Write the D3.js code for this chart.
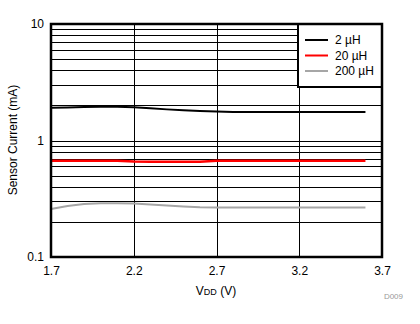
<!DOCTYPE html>
<html>
<head>
<meta charset="utf-8">
<script src="https://cdn.jsdelivr.net/npm/d3@7"></script>
<style>
  body { margin: 0; background: #fff; }
  text { font-family: "Liberation Sans", Arial, sans-serif; }
</style>
</head>
<body>
<svg id="chart"></svg>
<script>
// supply voltage (V)
const vdd = [1.7, 1.8, 1.9, 2.0, 2.1, 2.2, 2.3, 2.4, 2.5, 2.6, 2.7, 2.8, 2.9, 3.0, 3.1, 3.2, 3.3, 3.4, 3.5, 3.6];
// sensor current (mA) for each inductance
const cur2uH   = [1.91, 1.92, 1.94, 1.95, 1.95, 1.93, 1.89, 1.85, 1.82, 1.79, 1.77, 1.76, 1.76, 1.76, 1.76, 1.76, 1.76, 1.76, 1.76, 1.76];
const cur20uH  = [0.671, 0.671, 0.671, 0.671, 0.671, 0.66, 0.658, 0.658, 0.658, 0.658, 0.671, 0.671, 0.671, 0.671, 0.671, 0.671, 0.671, 0.671, 0.671, 0.671];
const cur200uH = [0.258, 0.274, 0.285, 0.29, 0.29, 0.288, 0.282, 0.277, 0.271, 0.267, 0.266, 0.266, 0.266, 0.266, 0.266, 0.266, 0.266, 0.266, 0.266, 0.266];
const seriesNames = ["2 µH", "20 µH", "200 µH"];
const seriesColors = ["#000000", "#ff0000", "#a6a6a6"];
const xTicks = [1.7, 2.2, 2.7, 3.2, 3.7];
const yTicks = [0.1, 1, 10];

document.addEventListener("DOMContentLoaded", function() {
  const width = 420, height = 324;
  const m = {left: 51, right: 38, top: 24, bottom: 67};

  const svg = d3.select("#chart")
    .attr("width", width)
    .attr("height", height);

  const x = d3.scaleLinear().domain([1.7, 3.7]).range([m.left, width - m.right]);
  const y = d3.scaleLog().domain([0.1, 10]).range([height - m.bottom, m.top]);

  // horizontal grid (log minor + major)
  const yGrid = [];
  for (let d = 0.1; d < 10; d *= 10) {
    for (let k = 1; k < 10; k++) yGrid.push(+(d * k).toPrecision(2));
  }
  svg.append("g").selectAll("line").data(yGrid).join("line")
    .attr("x1", m.left).attr("x2", width - m.right)
    .attr("y1", d => Math.round(y(d)) + 0.5).attr("y2", d => Math.round(y(d)) + 0.5)
    .attr("stroke", "#000").attr("stroke-width", 1);

  svg.append("g").selectAll("line").data(xTicks.slice(1, -1)).join("line")
    .attr("x1", d => Math.round(x(d)) + 0.5).attr("x2", d => Math.round(x(d)) + 0.5)
    .attr("y1", m.top).attr("y2", height - m.bottom)
    .attr("stroke", "#000").attr("stroke-width", 1);

  // series lines
  const series = [cur2uH, cur20uH, cur200uH];
  const line = d3.line()
    .x((d, i) => x(vdd[i]))
    .y(d => y(d));
  svg.append("g").selectAll("path").data(series).join("path")
    .attr("d", line)
    .attr("fill", "none")
    .attr("stroke", (d, i) => seriesColors[i])
    .attr("stroke-width", (d, i) => i === 1 ? 2.5 : 2);

  // legend
  const lg = svg.append("g");
  lg.append("rect")
    .attr("x", 298).attr("y", m.top)
    .attr("width", width - m.right - 298).attr("height", 63)
    .attr("fill", "#fff").attr("stroke", "#000").attr("stroke-width", 2);
  const items = lg.selectAll("g").data(seriesNames).join("g")
    .attr("transform", (d, i) => `translate(305,${40 + i * 15.5})`);
  items.append("line")
    .attr("x1", 0).attr("x2", 23)
    .attr("stroke", (d, i) => seriesColors[i]).attr("stroke-width", 2);
  items.append("text")
    .attr("x", 30).attr("dy", "0.35em")
    .attr("font-size", 12)
    .text(d => d);

  // frame
  svg.append("rect")
    .attr("x", m.left).attr("y", m.top)
    .attr("width", width - m.left - m.right).attr("height", height - m.top - m.bottom)
    .attr("fill", "none").attr("stroke", "#000").attr("stroke-width", 2.5);

  // axes
  const yAxis = d3.axisLeft(y).tickValues(yTicks).tickFormat(d3.format("~g")).tickSize(0).tickPadding(7);
  svg.append("g").attr("transform", `translate(${m.left},0)`).call(yAxis)
    .call(g => g.select(".domain").remove())
    .selectAll("text").attr("font-size", 12).attr("fill", "#000").style("font-family", "Liberation Sans, Arial, sans-serif");

  const xAxis = d3.axisBottom(x).tickValues(xTicks).tickFormat(d3.format(".1f")).tickSize(0).tickPadding(9);
  svg.append("g").attr("transform", `translate(0,${height - m.bottom})`).call(xAxis)
    .call(g => g.select(".domain").remove())
    .selectAll("text").attr("font-size", 12).attr("fill", "#000").style("font-family", "Liberation Sans, Arial, sans-serif");

  // axis titles
  svg.append("text")
    .attr("transform", `translate(13,140) rotate(-90)`)
    .attr("text-anchor", "middle").attr("dy", "0.35em")
    .attr("font-size", 12)
    .text("Sensor Current (mA)");

  const xt = svg.append("text")
    .attr("x", 216).attr("y", 295)
    .attr("text-anchor", "middle")
    .attr("font-size", 12);
  xt.append("tspan").text("V");
  xt.append("tspan").attr("font-size", 9).text("DD");
  xt.append("tspan").text(" (V)");

  svg.append("text")
    .attr("x", 403).attr("y", 299)
    .attr("text-anchor", "end")
    .attr("font-size", 8)
    .attr("fill", "#999")
    .text("D009");
});
</script>
</body>
</html>
